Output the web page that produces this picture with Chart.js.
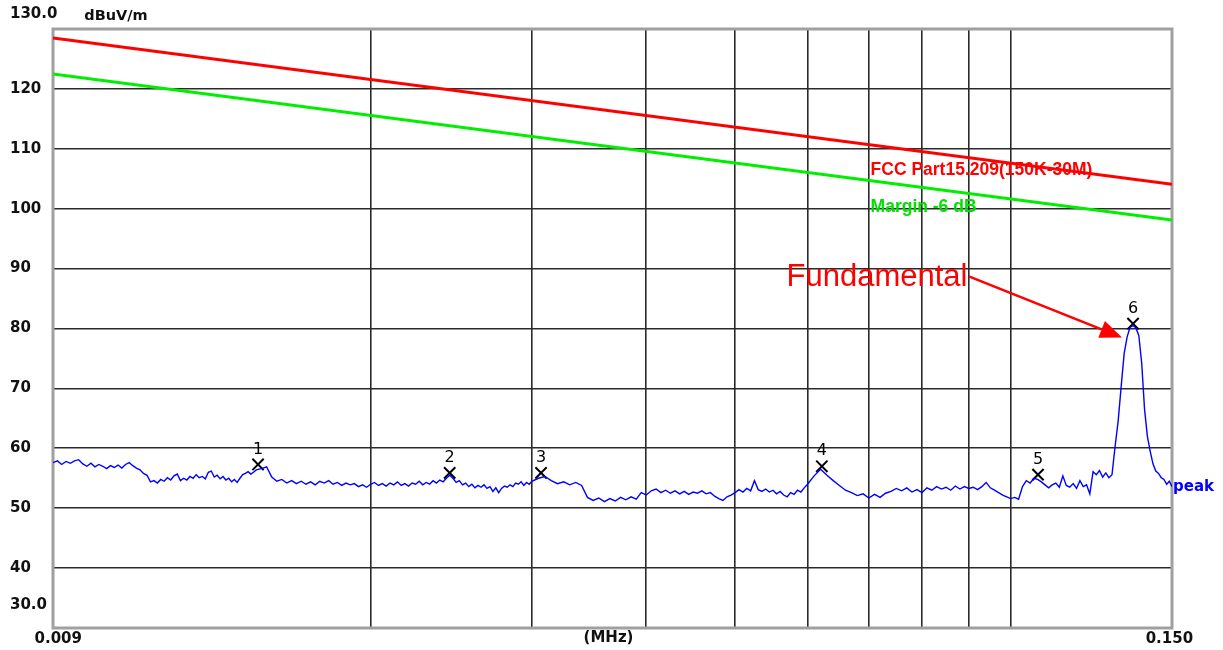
<!DOCTYPE html>
<html>
<head>
<meta charset="utf-8">
<title>Radiated emission 9 kHz - 150 kHz</title>
<script src="https://cdn.jsdelivr.net/npm/chart.js@4.4.1/dist/chart.umd.min.js"></script>
<style>
  html, body { margin: 0; padding: 0; background: #fff; }
  canvas { display: block; }
</style>
</head>
<body>
<canvas id="graphique" width="1223" height="650"></canvas>
<script>
/** Peak trace (frequency in kHz, level in dBuV/m) */
const peakFreq = [
  9.0, 9.1, 9.2, 9.3, 9.4, 9.5, 9.6, 9.7, 9.8, 9.9,
  10.0, 10.1, 10.2, 10.3, 10.4, 10.5, 10.6, 10.7, 10.8, 10.9,
  11.0, 11.1, 11.2, 11.3, 11.4, 11.5, 11.6, 11.7, 11.8, 11.9,
  12.0, 12.1, 12.2, 12.3, 12.4, 12.5, 12.6, 12.7, 12.8, 12.9,
  13.0, 13.1, 13.2, 13.3, 13.4, 13.5, 13.6, 13.7, 13.8, 13.9,
  14.0, 14.1, 14.2, 14.3, 14.4, 14.5, 14.6, 14.7, 14.8, 14.9,
  15.0,
  15.2, 15.4, 15.6, 15.8, 16.0, 16.2, 16.4, 16.6, 16.8, 17.0,
  17.2, 17.4, 17.6, 17.8, 18.0, 18.2, 18.4, 18.6, 18.8, 19.0,
  19.2, 19.4, 19.6, 19.8, 20.0, 20.2, 20.4, 20.6, 20.8, 21.0,
  21.2, 21.4, 21.6, 21.8, 22.0, 22.2, 22.4, 22.6, 22.8, 23.0,
  23.2, 23.4, 23.6, 23.8, 24.0, 24.2, 24.4, 24.6, 24.8, 25.0,
  25.2, 25.4, 25.6, 25.8, 26.0, 26.2, 26.4, 26.6, 26.8, 27.0,
  27.2, 27.4, 27.6, 27.8, 28.0, 28.2, 28.4, 28.6, 28.8, 29.0,
  29.2, 29.4, 29.6, 29.8, 30.0,
  30.5, 31.0, 31.5, 32.0, 32.5, 33.0, 33.5, 34.0, 34.5, 35.0,
  35.5, 36.0, 36.5, 37.0, 37.5, 38.0, 38.5, 39.0, 39.5, 40.0,
  40.5, 41.0, 41.5, 42.0, 42.5, 43.0, 43.5, 44.0, 44.5, 45.0,
  45.5, 46.0, 46.5, 47.0, 47.5, 48.0, 48.5, 49.0, 49.5, 50.0,
  50.5, 51.0, 51.5, 52.0, 52.5, 53.0, 53.5, 54.0, 54.5, 55.0,
  55.5, 56.0, 56.5, 57.0, 57.5, 58.0, 58.5, 59.0, 59.5, 60.0,
  61, 62, 63, 64, 65, 66, 67, 68, 69, 70,
  71, 72, 73, 74, 75, 76, 77, 78, 79, 80,
  81, 82, 83, 84, 85, 86, 87, 88, 89, 90,
  91, 92, 93, 94, 95, 96, 97, 98, 99, 100,
  101, 102, 103, 104, 105, 106, 107, 108, 109, 110,
  111, 112, 113, 114, 115, 116, 117, 118, 119, 120,
  121, 122, 123, 124, 125, 126, 127, 128, 129, 130,
  131, 132, 133, 134, 135, 136, 137, 138, 139, 140,
  141, 142, 143, 144, 145, 146, 147, 148, 149, 150
];
const peakLevel = [
  57.6, 57.9, 57.3, 57.8, 57.5, 57.9, 58.1, 57.4, 57.0, 57.5,
  56.9, 57.3, 57.0, 56.6, 57.1, 56.8, 57.2, 56.7, 57.3, 57.6,
  57.1, 56.7, 56.4, 55.8, 55.5, 54.4, 54.6, 54.2, 54.8, 54.5,
  55.1, 54.7, 55.4, 55.7, 54.6, 55.0, 54.7, 55.3, 55.0, 55.6,
  55.1, 55.3, 54.9, 56.0, 56.2, 55.2, 55.5, 54.9, 55.3, 54.7,
  55.0, 54.4, 54.8, 54.3, 55.0, 55.6, 55.8, 56.1, 55.7, 56.0,
  56.4,
  56.6, 56.9, 55.2, 54.5, 54.8, 54.2, 54.6, 54.1, 54.5, 54.0,
  54.4, 53.9, 54.5, 54.2, 54.6, 54.0, 54.3, 53.8, 54.2, 53.9,
  54.1, 53.6, 53.9, 53.5, 54.0, 54.3, 53.8, 54.1, 53.7, 54.2,
  53.9, 54.4, 53.8, 54.1, 53.7, 54.2, 54.0, 54.5, 53.9, 54.3,
  54.0, 54.6, 54.2, 54.7, 54.4, 55.0, 55.5, 55.0, 54.3, 54.6,
  53.9, 54.2, 53.6, 54.0, 53.4, 53.8, 53.5, 53.9, 53.3, 53.6,
  52.8, 53.4, 52.6, 53.3, 53.7, 53.5, 53.9, 53.6, 54.2, 54.0,
  54.4, 53.8, 54.3, 54.0, 54.5,
  55.0, 55.3, 54.6, 54.1, 54.4, 53.9, 54.3, 53.8, 51.8, 51.3,
  51.7, 51.1, 51.6, 51.2, 51.8, 51.4, 51.9, 51.5, 52.6, 52.2,
  52.9, 53.2, 52.6, 53.0, 52.5, 52.9, 52.4, 52.8, 52.3, 52.7,
  52.5, 52.9, 52.4, 52.6, 52.0, 51.6, 51.3, 51.9, 52.2, 52.6,
  53.1, 52.7, 53.3, 52.9, 54.6, 53.1, 52.8, 53.2, 52.7, 53.0,
  52.4, 52.8, 52.2, 51.9, 52.6, 52.3, 53.0, 52.7, 53.4, 54.0,
  55.4, 56.5, 55.5, 54.6, 53.8, 53.0, 52.6, 52.1, 52.4, 51.7,
  52.3, 51.8, 52.5, 52.8, 53.3, 52.9, 53.4, 52.7, 53.1, 52.6,
  53.4, 53.0, 53.6, 53.2, 53.5, 53.0, 53.7, 53.2, 53.6, 53.3,
  53.5, 53.1, 53.6, 54.3, 53.4, 53.0, 52.6, 52.2, 51.9, 51.6,
  51.8, 51.5, 53.6, 54.6, 54.2, 55.0, 54.8, 54.4, 53.9, 53.4,
  53.9, 54.2, 53.5, 55.4, 53.8, 53.5, 54.1, 53.3, 54.6, 53.6,
  53.9, 52.4, 56.1, 55.6, 56.3, 55.2, 55.9, 55.1, 55.6, 60.3,
  64.5, 70.3, 75.8, 78.6, 80.2, 80.5, 80.1, 78.8, 74.2, 66.5,
  62.0, 59.5, 57.4, 56.2, 55.8, 55.1, 54.8, 54.0, 54.5, 53.6
];

/** Limit lines */
const limitFreq = [9, 150];
const fccLimit = [128.5, 104.1];
const marginLimit = [122.5, 98.1];

/** Markers */
const markerFreq = [15.07, 24.4, 30.7, 62.2, 107.1, 136.0];
const markerLevel = [57.3, 55.9, 55.9, 57.0, 55.6, 80.8];
const markerNames = ['1', '2', '3', '4', '5', '6'];

/** Axes */
const xTickValues = [9, 20, 30, 40, 50, 60, 70, 80, 90, 100, 150];
const xTickLabels = ['  0.009', '', '', '', '', '', '', '', '', '', '0.150 '];
const yTickLabels = ['30.0', '40', '50', '60', '70', '80', '90', '100', '110', '120', '130.0'];
const xUnit = '(MHz)';
const yUnit = 'dBuV/m';

/** Texts */
const fccLabel = 'FCC Part15.209(150K-30M)';
const marginLabel = 'Margin -6 dB';
const traceLabel = 'peak';
const fundamentalLabel = 'Fundamental';

/** Where the texts sit, in data coordinates (kHz, dBuV/m) */
const fccLabelAt = [70.3, 106.5];
const marginLabelAt = [70.3, 100.2];
const fundamentalAt = [89.7, 88.6];
const arrowFrom = [90, 88.7];
const arrowTo = [132.3, 78.5];

const sansBold = '"DejaVu Sans", sans-serif';

/** Frame, texts, marker numbers and the arrow */
const habillage = {
  id: 'habillage',
  beforeDatasetsDraw(chart) {
    const { ctx, chartArea: a } = chart;
    ctx.save();
    ctx.strokeStyle = '#a0a0a0';
    ctx.lineWidth = 3;
    ctx.strokeRect(a.left, a.top, a.right - a.left, a.bottom - a.top);
    ctx.restore();
  },
  afterDatasetsDraw(chart) {
    const { ctx, chartArea: a, scales: { x, y } } = chart;
    ctx.save();

    // units
    ctx.fillStyle = '#111';
    ctx.textBaseline = 'middle';
    ctx.textAlign = 'center';
    ctx.font = 'bold 14.5px ' + sansBold;
    ctx.fillText(yUnit, a.left + 63, a.top - 13);
    ctx.font = 'bold 15px ' + sansBold;
    ctx.fillText(xUnit, (a.left + a.right) / 2 - 4, a.bottom + 10);

    // marker numbers
    const meta = chart.getDatasetMeta(3);
    ctx.font = '16px ' + sansBold;
    ctx.fillStyle = '#000';
    meta.data.forEach((pt, i) => {
      ctx.fillText(markerNames[i], pt.x, pt.y - 15);
    });

    // limit labels
    ctx.textAlign = 'left';
    ctx.font = 'bold 17.5px "Liberation Sans", Arial, sans-serif';
    ctx.fillStyle = '#ff0000';
    ctx.fillText(fccLabel, x.getPixelForValue(fccLabelAt[0]), y.getPixelForValue(fccLabelAt[1]));
    ctx.fillStyle = '#00e000';
    ctx.fillText(marginLabel, x.getPixelForValue(marginLabelAt[0]), y.getPixelForValue(marginLabelAt[1]));

    // trace name
    const last = chart.getDatasetMeta(2).data.at(-1);
    ctx.fillStyle = '#0000ff';
    ctx.font = 'bold 15px ' + sansBold;
    ctx.fillText(traceLabel, a.right + 1, last.y);

    // fundamental + arrow
    ctx.fillStyle = '#ff0000';
    ctx.strokeStyle = '#ff0000';
    ctx.textAlign = 'right';
    ctx.font = '31px "Liberation Sans", Arial, sans-serif';
    ctx.fillText(fundamentalLabel, x.getPixelForValue(fundamentalAt[0]), y.getPixelForValue(fundamentalAt[1]));

    const x0 = x.getPixelForValue(arrowFrom[0]);
    const y0 = y.getPixelForValue(arrowFrom[1]);
    const x1 = x.getPixelForValue(arrowTo[0]);
    const y1 = y.getPixelForValue(arrowTo[1]);
    const ang = Math.atan2(y1 - y0, x1 - x0);
    const head = 22;
    const half = 9;
    const bx = x1 - head * Math.cos(ang);
    const by = y1 - head * Math.sin(ang);
    ctx.lineWidth = 2.5;
    ctx.beginPath();
    ctx.moveTo(x0, y0);
    ctx.lineTo(bx, by);
    ctx.stroke();
    ctx.beginPath();
    ctx.moveTo(x1, y1);
    ctx.lineTo(bx - half * Math.sin(ang), by + half * Math.cos(ang));
    ctx.lineTo(bx + half * Math.sin(ang), by - half * Math.cos(ang));
    ctx.closePath();
    ctx.fill();

    ctx.restore();
  }
};

const toPoints = (xs, ys) => xs.map((f, i) => ({ x: f, y: ys[i] }));

const data = {
  datasets: [
    { label: fccLabel, data: toPoints(limitFreq, fccLimit), borderColor: '#ff0000', borderWidth: 3, pointRadius: 0 },
    { label: marginLabel, data: toPoints(limitFreq, marginLimit), borderColor: '#00ee00', borderWidth: 3, pointRadius: 0 },
    { label: traceLabel, data: toPoints(peakFreq, peakLevel), borderColor: '#0000ff', borderWidth: 1.4, pointRadius: 0 },
    {
      label: 'markers', data: toPoints(markerFreq, markerLevel), showLine: false,
      pointStyle: 'crossRot', pointRadius: 8, borderColor: '#000', borderWidth: 2
    }
  ]
};

const gridStyle = { color: '#2a2a2a', lineWidth: 1.6, drawTicks: false };

const options = {
  responsive: false,
  animation: false,
  devicePixelRatio: 1,
  layout: { autoPadding: false, padding: { left: 10, top: 29, right: 51, bottom: 0 } },
  plugins: { legend: { display: false }, tooltip: { enabled: false } },
  elements: { line: { tension: 0 } },
  scales: {
    x: {
      type: 'logarithmic',
      min: 9,
      max: 150,
      border: { display: false },
      grid: gridStyle,
      afterBuildTicks: scale => { scale.ticks = xTickValues.map(v => ({ value: v })); },
      afterFit: scale => { scale.height = 22; scale.paddingLeft = 0; scale.paddingRight = 0; },
      ticks: {
        autoSkip: false,
        maxRotation: 0,
        padding: 2,
        color: '#111',
        font: { family: sansBold, size: 15, weight: 'bold' },
        callback: (value, index) => xTickLabels[index]
      }
    },
    y: {
      min: 30,
      max: 130,
      border: { display: false },
      grid: gridStyle,
      afterFit: scale => {
        scale.width = 43;
        scale.paddingTop = 0;
        scale.paddingBottom = 0;
        // labels such as "130.0" run past the axis box, as in the original
        scale._computeLabelArea = () => undefined;
      },
      ticks: {
        stepSize: 10,
        autoSkip: false,
        crossAlign: 'far',
        padding: 0,
        color: '#111',
        font: { family: sansBold, size: 15, weight: 'bold', lineHeight: '15px' },
        callback: (value, index) => {
          const label = yTickLabels[index];
          if (value === 130) { return [label, '', '']; }
          if (value === 30) { return [label, '', '', '']; }
          return label;
        }
      }
    }
  }
};

new Chart(document.getElementById('graphique').getContext('2d'), {
  type: 'line',
  data,
  options,
  plugins: [habillage]
});
</script>
</body>
</html>
